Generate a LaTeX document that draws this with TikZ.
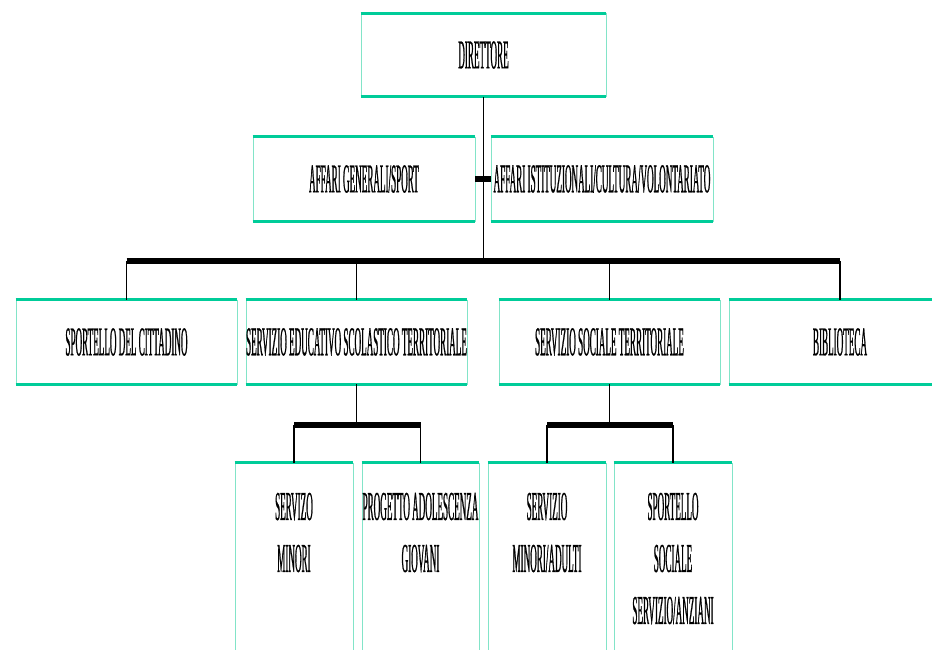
\documentclass[tikz,border=0pt]{standalone}
\usepackage{fontspec}
\newfontfamily\narrowserif[FakeStretch=0.222,FakeBold=0.5]{Liberation Serif}
\usetikzlibrary{calc}
\definecolor{topgreen}{RGB}{0,204,153}
\definecolor{sidegreen}{RGB}{130,228,200}
\newcommand\boxedges[1]{%
  \draw[edge] (#1.north west) -- (#1.north east);
  \draw[edge] (#1.south west) -- (#1.south east);}
\begin{document}
\begin{tikzpicture}[x=1pt,y=-1pt,
  orgbox/.style={draw=sidegreen, line width=0.9pt, rectangle, inner sep=0pt,
    font=\narrowserif\fontsize{41}{52}\selectfont, align=center},
  lbl/.style={inner sep=0pt, font=\narrowserif\fontsize{41}{52}\selectfont, align=center},
  edge/.style={topgreen, line width=3pt},
  conn/.style={line width=1.3pt},
  bar/.style={line width=5.5pt}]
\useasboundingbox (0,0) rectangle (932,650);
\clip (0,0) rectangle (932,650);
\fill[white] (0,0) rectangle (932,650);
% level 0
\node[orgbox, minimum width=245pt, minimum height=83pt] (dir) at (483.5,55) {DIRETTORE};
% staff
\node[orgbox, minimum width=222pt, minimum height=84pt] (ag) at (364,179) {AFFARI GENERALI/SPORT};
\node[orgbox, minimum width=222pt, minimum height=84pt] (ai) at (602,179) {AFFARI ISTITUZIONALI/CULTURA/VOLONTARIATO};
% level 1
\node[orgbox, minimum width=221pt, minimum height=84pt] (spo) at (126.5,342) {SPORTELLO DEL CITTADINO};
\node[orgbox, minimum width=221pt, minimum height=84pt] (edu) at (356.5,342) {SERVIZIO EDUCATIVO SCOLASTICO TERRITORIALE};
\node[orgbox, minimum width=221pt, minimum height=84pt] (soc) at (609.5,342) {SERVIZIO SOCIALE TERRITORIALE};
\node[orgbox, minimum width=222pt, minimum height=84pt] (bib) at (840,342) {BIBLIOTECA};
% level 2 boxes
\node[orgbox, minimum width=118pt, minimum height=257pt] (m1) at (294,591.5) {};
\node[orgbox, minimum width=117pt, minimum height=257pt] (m2) at (420.5,591.5) {};
\node[orgbox, minimum width=118pt, minimum height=257pt] (m3) at (547,591.5) {};
\node[orgbox, minimum width=118pt, minimum height=257pt] (m4) at (673,591.5) {};
\node[lbl, anchor=north] (t1) at ($(m1.north)+(0,30)$) {SERVIZO\\MINORI};
\node[lbl, anchor=north] (t2) at ($(m2.north)+(0,30)$) {PROGETTO ADOLESCENZA\\GIOVANI};
\node[lbl, anchor=north] (t3) at ($(m3.north)+(0,30)$) {SERVIZIO\\MINORI/ADULTI};
\node[lbl, anchor=north] (t4) at ($(m4.north)+(0,30)$) {SPORTELLO\\SOCIALE\\SERVIZIO/ANZIANI};
% green edges
\foreach \b in {dir,ag,ai,spo,edu,soc,bib,m1,m2,m3,m4} {\boxedges{\b}}
% connectors
\coordinate (hub) at (483.5,261);
\draw[conn] (dir.south) -- (hub);
\draw[line width=6pt] (ag.east) -- (ai.west);
\draw[bar] (spo.north |- hub) -- (bib.north |- hub);
\foreach \b in {spo,edu,soc,bib} {\draw[conn] (\b.north) -- (\b.north |- hub);}
\coordinate (hubE) at (356.5,425);
\coordinate (hubS) at (609.5,425);
\draw[conn] (edu.south) -- (hubE);
\draw[conn] (soc.south) -- (hubS);
\draw[bar] (m1.north |- hubE) -- (m2.north |- hubE);
\draw[bar] (m3.north |- hubS) -- (m4.north |- hubS);
\foreach \b in {m1,m2} {\draw[conn] (\b.north) -- (\b.north |- hubE);}
\foreach \b in {m3,m4} {\draw[conn] (\b.north) -- (\b.north |- hubS);}
\end{tikzpicture}
\end{document}
